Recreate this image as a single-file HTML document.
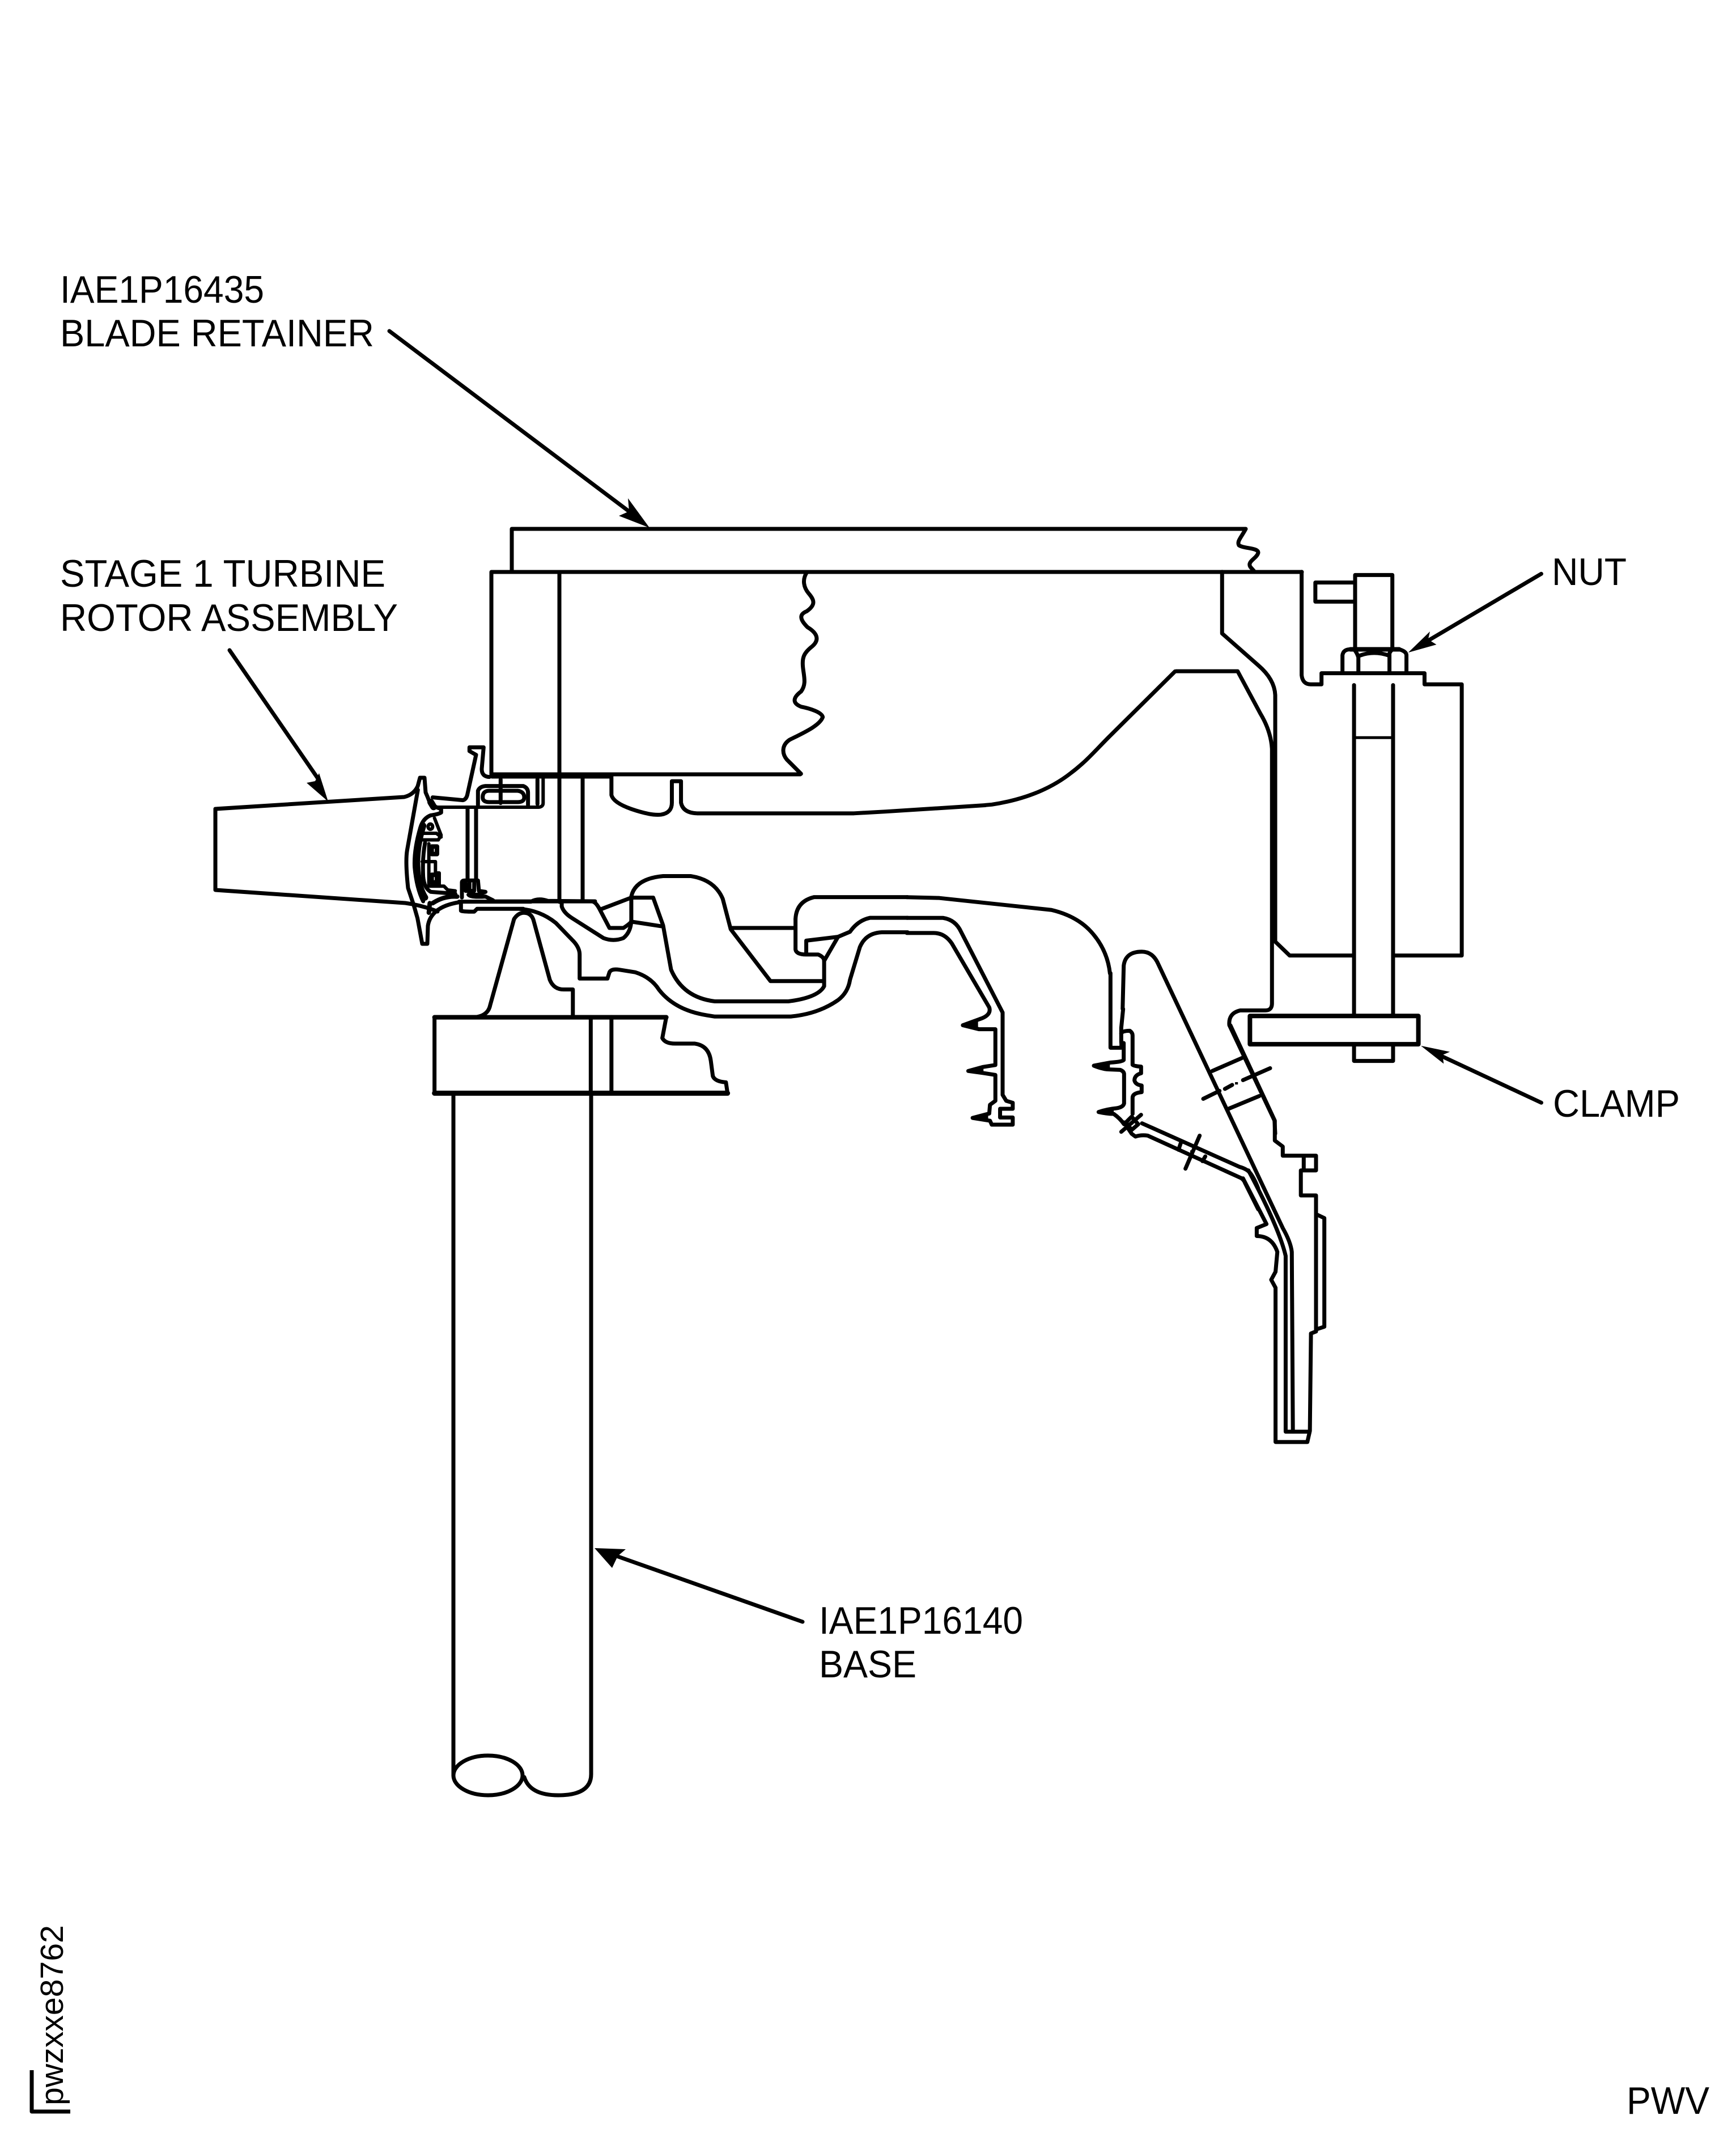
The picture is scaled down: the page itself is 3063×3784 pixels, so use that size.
<!DOCTYPE html>
<html><head><meta charset="utf-8"><style>
html,body{margin:0;padding:0;background:#fff}
svg{display:block}
path,polyline,line,rect,ellipse{vector-effect:non-scaling-stroke}
text{font-family:"Liberation Sans",Arial,sans-serif;font-size:68px;fill:#000}
</style></head><body>
<svg xmlns="http://www.w3.org/2000/svg" width="3063" height="3784" viewBox="0 0 3063 3784">
<rect width="3063" height="3784" fill="#fff"/>
<g fill="none" stroke="#000" stroke-width="7" stroke-linejoin="round" stroke-linecap="round">

<!-- retainer / main rectangles, real coordinates -->
<path d="M903,1009 L903,933 L2198,933 C2190,948 2182,955 2186,962 C2195,968 2220,966 2220,975 C2218,985 2200,990 2206,1000 L2214,1009"/>
<path d="M1412,1366 L867,1366 L867,1009 L2297,1009"/>
<line x1="987" y1="1009" x2="987" y2="1591"/>
<g transform="translate(1350,1000) scale(.3333)">
<path d="M220,30 C195,70 205,110 230,140 C260,175 270,200 220,235 C170,255 195,290 225,320 C275,350 290,385 250,420 C205,455 195,480 200,530 C205,580 220,620 190,660 C150,690 140,720 190,740 C240,750 300,770 305,795 C290,840 200,880 130,915 C85,945 90,990 115,1020 L190,1095"/>
</g>
<line x1="868" y1="1369" x2="1078" y2="1369" stroke-width="9"/>
<line x1="1028" y1="1372" x2="1028" y2="1590"/>

<!-- Zoom2 coordinate group -->
<g transform="translate(700,1300) scale(.7015,.4464)">
<path d="M540,160 L540,230 Q545,260 590,285 Q640,312 665,307 Q692,300 692,260 L692,175 L715,175 L715,260 Q720,300 755,302 L1150,302 L1230,295 L1480,270"/>
<!-- base -->
<path d="M95,1408 L95,1107 L200,1107 Q230,1100 235,1060 L295,720 Q305,695 320,695 Q340,695 345,730 L385,960 Q395,998 420,998 L443,998 L443,1107 L678,1107 L668,1190 Q675,1212 700,1212 L750,1212 Q785,1220 790,1280 L795,1340 Q800,1362 828,1365 L832,1408 Z" />
<line x1="95" y1="1108" x2="678" y2="1108" stroke-width="8"/>
<line x1="95" y1="1408" x2="832" y2="1408" stroke-width="9"/>
<line x1="488" y1="1107" x2="488" y2="1408"/>
<line x1="540" y1="1107" x2="540" y2="1408"/>
<!-- ring outer -->
<path d="M310,680 Q360,685 400,735 L440,800 Q460,830 460,860 L460,955 L530,955 L535,930 Q540,915 560,920 L600,930 Q640,950 660,1000 Q700,1080 780,1100 L800,1105 L990,1105 Q1060,1095 1110,1040 Q1135,1010 1140,960 L1165,830 Q1180,775 1220,772 L1285,772"/>
<path d="M1285,715 L1190,715 Q1160,725 1140,770 L1110,790 L1030,805 L1030,855"/>
<path d="M1110,790 L1075,885"/>
<path d="M1003,720 L1003,840 Q1005,860 1030,860 L1060,860 Q1075,870 1075,885 L1075,985 Q1060,1030 985,1045 L800,1045 Q720,1030 690,920 L670,745 L645,635 L590,635 L515,680"/>
<path d="M1003,720 Q1005,650 1050,633 L1285,633"/>
<path d="M240,650 L490,650 Q500,650 510,680 L535,755 L570,755 Q585,740 590,730 L665,748"/>
<path d="M415,655 L415,670 Q420,695 440,715 L520,795 Q545,810 570,795 Q590,770 590,720 L590,630 Q600,560 670,550 L740,550 Q800,565 820,640 L840,760 L940,965 L1075,965"/>
<line x1="843" y1="755" x2="1003" y2="755"/>
</g>

<!-- duct curve -->
<g transform="translate(1750,1150) scale(.3333)">
<path d="M-35,811 L0,808 C150,785 300,735 420,640 C500,580 550,520 620,450 L970,103"/>
</g>

<!-- Zoom4 group -->
<g transform="translate(2000,900) scale(.6378,.7015)">
<path d="M245,155 L245,310 L345,390 Q390,425 392,465 L392,1085 L432,1120 L610,1120"/>
<path d="M465,155 L465,415 Q468,438 490,438 L520,438 L520,410 L805,410 L805,438 L908,438 L908,1120 L718,1120"/>
<path d="M118,405 L288,405 L350,510 Q380,555 383,600 L383,1240 Q383,1258 365,1258 L295,1258 Q262,1265 265,1295 L390,1535 L392,1568"/>
<line x1="610" y1="440" x2="610" y2="1270"/>
<line x1="718" y1="440" x2="718" y2="1270"/>
<line x1="610" y1="572" x2="718" y2="572" stroke-width="5"/>
<path d="M613,345 L613,163 L716,163 L716,345"/>
<path d="M610,182 L503,182 L503,230 L610,230"/>
<path d="M578,405 L578,365 Q580,350 600,350 L735,350 Q755,355 755,365 L755,405"/>
<line x1="600" y1="350" x2="735" y2="350" stroke-width="8"/>
<path d="M622,405 L622,370 Q618,358 610,350 M708,405 L708,360 Q712,352 718,350 M625,366 Q665,352 708,366"/>
<rect x="322" y="1272" width="466" height="71" stroke-width="8"/>
<path d="M610,1345 L610,1385 L718,1385 L718,1345"/>
<line x1="1128" y1="160" x2="815" y2="328"/>
<line x1="1128" y1="1490" x2="850" y2="1372"/>
<polygon points="760,358 820,305 815,325 838,338" fill="#000" stroke="none"/>
<polygon points="795,1347 875,1362 855,1370 858,1392" fill="#000" stroke="none"/>
</g>

<!-- Zoom3 group -->
<g transform="translate(1600,1500) scale(.6378,.7015)">
<path d="M0,118 L90,120 L400,150 Q470,165 510,205 Q555,250 562,310"/>
<path d="M0,170 L100,170 Q135,175 150,205 L265,408 L265,615 L275,630 L293,635 L293,650 L258,650 L258,672 L293,672 L293,690 L235,690 L230,680 L182,673 L228,662 L230,640 L245,630 L245,565 L210,560 L170,555 L210,545 L245,540 L245,450 L200,450 L155,440 L200,425 Q235,415 228,395 L125,235 Q105,208 75,208 L0,208"/>
<polygon points="155,440 197,428 197,449" fill="#000" stroke="none"/>
<polygon points="170,555 212,546 212,561" fill="#000" stroke="none"/>
<polygon points="182,673 225,664 225,679" fill="#000" stroke="none"/>
<path d="M597,399 L600,290 Q605,255 650,255 Q680,255 695,285 L1040,950 Q1062,985 1065,1010 L1068,1462"/>
<path d="M895,440 L1018,680 L1018,730 L1040,745 L1040,768 L1132,768 L1132,805 L1098,805 L1098,768 M1098,805 L1090,805 L1090,868 L1132,868 L1132,1210 L1118,1215 L1115,1460 L1108,1488 L1020,1488 L1020,1100 L1008,1080 L1020,1060 L1025,1010 Q1010,970 968,970 L968,950 L995,940 L930,825"/>
<path d="M945,805 Q1030,950 1048,1020 L1048,1462 L1112,1462"/>
<path d="M1132,915 L1155,925 L1155,1198 L1132,1205"/>
<line x1="845" y1="555" x2="928" y2="522"/>
<line x1="890" y1="650" x2="975" y2="618"/>
<path d="M820,625 L865,605 M880,600 L900,590 M930,578 L1005,548"/>
<rect x="908" y="583" width="8" height="6" fill="#000" stroke="none"/>
</g>

<!-- hanger detail -->
<g transform="translate(1880,1780) scale(.3333)">
<path d="M238,-190 L238,205 L295,205 Q297,190 295,175 L295,100 L305,0"/>
<path d="M295,130 Q300,115 340,115 Q355,125 355,140 L355,295 Q360,302 400,305 L400,340 Q365,350 365,378 Q370,400 403,405 L403,440 Q355,445 355,470 L355,555"/>
<path d="M308,180 L308,270 Q300,280 240,283 Q200,290 150,300 Q200,320 235,320 L290,322 Q310,330 310,345 L310,500 Q305,520 270,525 Q220,530 175,545 Q220,555 255,555 Q290,580 310,610"/>
<polygon points="150,301 235,283 235,320" fill="#000" stroke="none"/>
<polygon points="175,545 255,525 255,558" fill="#000" stroke="none"/>
<path d="M295,650 L400,560 M320,600 L350,570 L385,610 L350,640 Z"/>
<rect x="342" y="600" width="16" height="12" fill="#000" stroke="none"/>
</g>

<!-- Zoom8 group -->
<g transform="translate(1920,1950) scale(.3333)">
<path d="M285,95 L800,325 Q835,335 850,350 Q875,375 900,440"/>
<path d="M190,90 L230,150 L250,165 Q280,155 315,160 L810,385 Q825,395 830,410 L900,550"/>
<path d="M515,335 L590,160 M490,200 L478,235 M620,270 L605,295"/>
<rect x="540" y="238" width="14" height="14" fill="#000" stroke="none"/>
</g>

<!-- airfoil -->
<path d="M380,1427 L380,1570 L715,1593 Q745,1597 772,1608" />
<path d="M380,1427 L713,1406 Q730,1402 737,1387 L741,1372 L749,1372 L751,1398 Q755,1407 758,1415"/>
<g transform="translate(650,1300) scale(.3333)">
<path d="M262,280 L205,600 Q195,660 210,800 L240,890 L260,960 L285,1095 L312,1095 L315,1000 Q330,900 480,875"/>
<path d="M330,345 Q345,372 385,380 L385,400 Q370,410 330,415 Q290,430 275,480 Q240,600 245,690 Q255,800 290,870"/>
<path d="M290,470 Q255,580 258,680 Q262,790 300,850" stroke-width="11"/>
<path d="M300,560 Q285,640 290,740 Q295,800 330,820 L460,830"/>
<path d="M290,510 L360,510 L385,530 M285,545 L370,545 L385,520 L350,430 M320,565 L320,790 L400,790 L420,810 L460,815 M320,660 L285,660 L355,660 L355,720 L375,720 L375,780" stroke-width="6"/>
<rect x="335" y="580" width="28" height="40" stroke-width="8"/>
<rect x="335" y="730" width="28" height="40" stroke-width="8"/>
<ellipse cx="328" cy="475" rx="12" ry="14" stroke-width="6"/>
<path d="M325,880 L320,930 M340,880 Q400,840 470,845" stroke-width="8"/>
<!-- seal arm -->
<path d="M340,320 L500,335 Q520,330 525,300 L570,95 L535,75 L535,55 L610,55 L600,170 Q600,210 640,212"/>
<path d="M330,350 L360,372 L900,372 Q925,370 925,350 L925,220" stroke-width="6"/>
<line x1="330" y1="345" x2="345" y2="370" stroke-width="12"/>
<line x1="895" y1="225" x2="895" y2="355"/>
<path d="M580,360 L580,285 Q590,262 620,260 L820,260 Q845,270 845,295 L845,360"/>
<path d="M605,320 Q605,285 640,285 L790,285 Q825,290 825,320 Q825,345 790,345 L640,345 Q605,345 605,320 Z"/>
<line x1="700" y1="225" x2="700" y2="350"/>
<line x1="525" y1="380" x2="525" y2="760"/>
<line x1="570" y1="380" x2="570" y2="760"/>
<path d="M495,850 L495,770 Q495,760 510,760 L580,760 L585,815 L620,820 L580,835 L530,835"/>
<path d="M515,775 L515,815 M535,775 L535,815 M560,775 L560,815 M515,815 L560,815"/>
<path d="M530,835 Q540,850 620,845 L660,865" stroke-width="7"/>
<path d="M480,872 L860,872 Q900,850 950,868 L1200,870" stroke-width="7"/>
<path d="M490,880 L490,920 Q495,925 560,925 L575,910 L820,910"/>
</g>

<!-- Stage arrow -->
<line x1="405" y1="1147" x2="560" y2="1372"/>
<polygon points="579,1414 563,1364 556,1378 541,1381" fill="#000" stroke="none"/>
<!-- Retainer arrow -->
<line x1="687" y1="584" x2="1115" y2="906"/>
<polygon points="1146,931 1092,910 1110,902 1108,879" fill="#000" stroke="none"/>
<!-- Base arrow -->
<line x1="1416" y1="2861" x2="1085" y2="2744"/>
<polygon points="1049,2731 1104,2733 1090,2745 1080,2766" fill="#000" stroke="none"/>

<!-- tube -->
<path d="M800,1928 L800,3132"/>
<path d="M1043,1928 L1043,3130 Q1043,3167 985,3167 Q935,3167 925,3135"/>
<ellipse cx="861" cy="3132" rx="61" ry="35"/>
<!-- bracket -->
<path d="M56,3652 L56,3725 L124,3725" stroke-linecap="butt"/>
</g>

<text x="106" y="534" textLength="360" lengthAdjust="spacingAndGlyphs">IAE1P16435</text>
<text x="106" y="611" textLength="554" lengthAdjust="spacingAndGlyphs">BLADE RETAINER</text>
<text x="106" y="1035" textLength="574" lengthAdjust="spacingAndGlyphs">STAGE 1 TURBINE</text>
<text x="106" y="1113" textLength="596" lengthAdjust="spacingAndGlyphs">ROTOR ASSEMBLY</text>
<text x="2738" y="1032" textLength="132" lengthAdjust="spacingAndGlyphs">NUT</text>
<text x="2740" y="1970" textLength="224" lengthAdjust="spacingAndGlyphs">CLAMP</text>
<text x="1445" y="2882" textLength="360" lengthAdjust="spacingAndGlyphs">IAE1P16140</text>
<text x="1445" y="2959" textLength="172" lengthAdjust="spacingAndGlyphs">BASE</text>
<text x="2870" y="3729" textLength="146" lengthAdjust="spacingAndGlyphs">PWV</text>
<text transform="translate(111,3714) rotate(-90)" style="font-size:57px" textLength="318" lengthAdjust="spacingAndGlyphs">pwzxxe8762</text>
</svg>
</body></html>
